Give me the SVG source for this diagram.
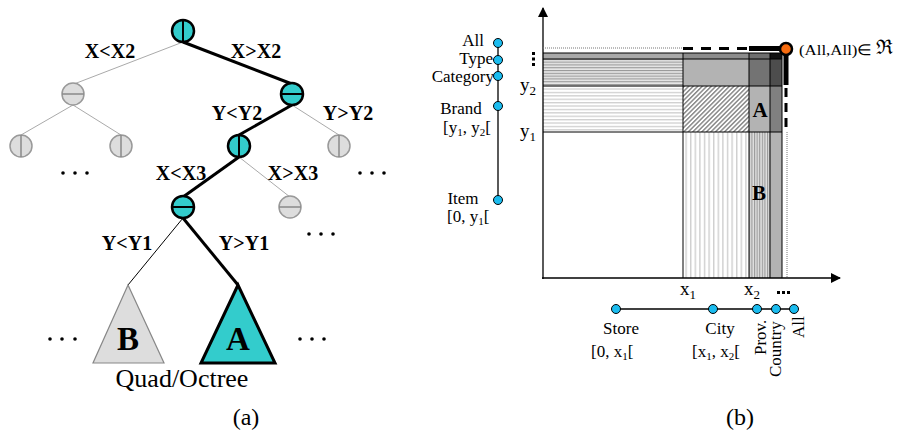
<svg xmlns="http://www.w3.org/2000/svg" width="897" height="432" viewBox="0 0 897 432">
<style>
.lbl{font-family:"Liberation Serif",serif;font-weight:bold;font-size:20px;text-anchor:middle;fill:#000}
.txt{font-family:"Liberation Serif",serif;font-size:17px;fill:#000}
.ax{font-family:"Liberation Serif",serif;font-size:19px;fill:#000}
.tn{fill:#33cccc;stroke:#000;stroke-width:2.5}
.gn{fill:#dddddd;stroke:#999;stroke-width:1.5}
.ts{stroke:#000;stroke-width:2}
.gs{stroke:#888;stroke-width:1.5}
.thick{stroke:#000;stroke-width:3;fill:none}
.thin{stroke:#aaa;stroke-width:1;fill:none}
.hn{fill:#1bbcef;stroke:#000;stroke-width:1}
.grid{stroke:#000;stroke-width:1;fill:none}
</style>
<defs>
<pattern id="hLight" patternUnits="userSpaceOnUse" width="10" height="3.4"><rect width="10" height="3.4" fill="#fff"/><rect y="0" width="10" height="1.3" fill="#cfcfcf"/></pattern>
<pattern id="hDense" patternUnits="userSpaceOnUse" width="10" height="2.8"><rect width="10" height="2.8" fill="#e6e6e6"/><rect y="0" width="10" height="1.1" fill="#999"/></pattern>
<pattern id="vLight" patternUnits="userSpaceOnUse" width="4.6" height="10"><rect width="4.6" height="10" fill="#fff"/><rect x="0" width="1.4" height="10" fill="#cfcfcf"/></pattern>
<pattern id="vDense" patternUnits="userSpaceOnUse" width="2.6" height="10"><rect width="2.6" height="10" fill="#e0e0e0"/><rect x="0" width="1.1" height="10" fill="#999"/></pattern>
<pattern id="diag" patternUnits="userSpaceOnUse" width="3.2" height="3.2" patternTransform="rotate(45)"><rect width="3.2" height="3.2" fill="#fff"/><rect x="0" width="1.5" height="3.2" fill="#8a8a8a"/></pattern>
<marker id="arr" viewBox="0 0 10 10" refX="9" refY="5" markerWidth="10" markerHeight="10" markerUnits="userSpaceOnUse" orient="auto"><path d="M0,0 L10,5 L0,10 Z" fill="#000"/></marker>
</defs>

<!-- (a) tree -->
<g id="connectors-a">
<line class="thin" x1="183" y1="42" x2="74" y2="84"/>
<line class="thick" x1="183" y1="42" x2="292" y2="84"/>
<line class="thin" x1="73" y1="105" x2="21" y2="135"/>
<line class="thin" x1="73" y1="105" x2="121" y2="135"/>
<line class="thick" x1="292" y1="105" x2="239" y2="135"/>
<line class="thin" x1="292" y1="105" x2="339" y2="135"/>
<line class="thick" x1="239" y1="157" x2="183" y2="197"/>
<line class="thin" x1="239" y1="157" x2="290" y2="197"/>
<line stroke="#000" stroke-width="1" x1="183" y1="218" x2="128" y2="285"/>
<line class="thick" x1="183" y1="218" x2="238" y2="285"/>
</g>
<g id="root"><circle class="tn" cx="183" cy="31" r="11"/><line class="ts" x1="183" y1="20" x2="183" y2="42"/></g>
<g id="n1l"><circle class="gn" cx="73" cy="94" r="11"/><line class="gs" x1="62" y1="94" x2="84" y2="94"/></g>
<g id="n1r"><circle class="tn" cx="292" cy="94" r="11"/><line class="ts" x1="281" y1="94" x2="303" y2="94"/></g>
<g id="n2a"><circle class="gn" cx="21" cy="146" r="11"/><line class="gs" x1="21" y1="135" x2="21" y2="157"/></g>
<g id="n2b"><circle class="gn" cx="121" cy="146" r="11"/><line class="gs" x1="121" y1="135" x2="121" y2="157"/></g>
<g id="n2c"><circle class="tn" cx="239" cy="146" r="11"/><line class="ts" x1="239" y1="135" x2="239" y2="157"/></g>
<g id="n2d"><circle class="gn" cx="339" cy="146" r="11"/><line class="gs" x1="339" y1="135" x2="339" y2="157"/></g>
<g id="n3a"><circle class="tn" cx="183" cy="207" r="11"/><line class="ts" x1="172" y1="207" x2="194" y2="207"/></g>
<g id="n3b"><circle class="gn" cx="290" cy="207" r="11"/><line class="gs" x1="279" y1="207" x2="301" y2="207"/></g>
<g id="triB"><polygon points="128,285 93,363 164,363" fill="#dddddd" stroke="#888" stroke-width="1.2"/><text x="128" y="350" font-family="Liberation Serif,serif" font-weight="bold" font-size="33" text-anchor="middle">B</text></g>
<g id="triA"><polygon points="238,285 201,363 275,363" fill="#33cccc" stroke="#000" stroke-width="3" stroke-linejoin="miter"/><text x="238" y="350" font-family="Liberation Serif,serif" font-weight="bold" font-size="33" text-anchor="middle">A</text></g>
<g id="labels-a">
<text class="lbl" x="110" y="58">X&lt;X2</text>
<text class="lbl" x="256" y="58">X&gt;X2</text>
<text class="lbl" x="237" y="120">Y&lt;Y2</text>
<text class="lbl" x="348" y="120">Y&gt;Y2</text>
<text class="lbl" x="181" y="180">X&lt;X3</text>
<text class="lbl" x="293" y="180">X&gt;X3</text>
<text class="lbl" x="127" y="250">Y&lt;Y1</text>
<text class="lbl" x="244" y="250">Y&gt;Y1</text>
<text x="182" y="387" font-family="Liberation Serif,serif" font-size="26" text-anchor="middle">Quad/Octree</text>
<text x="246" y="425" font-family="Liberation Serif,serif" font-size="24" text-anchor="middle">(a)</text>
</g>
<g id="dots-a" fill="#000">
<circle cx="50" cy="339" r="1.8"/><circle cx="62" cy="339" r="1.8"/><circle cx="75" cy="339" r="1.8"/>
<circle cx="300" cy="339" r="1.8"/><circle cx="312" cy="339" r="1.8"/><circle cx="324" cy="339" r="1.8"/>
<circle cx="63" cy="173" r="1.8"/><circle cx="75" cy="173" r="1.8"/><circle cx="87" cy="173" r="1.8"/>
<circle cx="360" cy="173" r="1.8"/><circle cx="372" cy="173" r="1.8"/><circle cx="384" cy="173" r="1.8"/>
<circle cx="309" cy="234" r="1.8"/><circle cx="321" cy="234" r="1.8"/><circle cx="333" cy="234" r="1.8"/>
</g>

<!-- (b) chart -->
<g id="cells">
<rect x="543" y="53" width="140" height="6" fill="#a9a9a9"/>
<rect x="543" y="59" width="140" height="27" fill="url(#hDense)"/>
<rect x="543" y="86" width="140" height="46" fill="url(#hLight)"/>
<rect x="683" y="53" width="66" height="6" fill="#8c8c8c"/>
<rect x="683" y="59" width="66" height="27" fill="#b3b3b3"/>
<rect x="683" y="86" width="66" height="46" fill="url(#diag)"/>
<rect x="683" y="132" width="66" height="146" fill="url(#vLight)"/>
<rect x="749" y="53" width="21" height="6" fill="#6e6e6e"/>
<rect x="749" y="59" width="21" height="27" fill="#737373"/>
<rect x="749" y="86" width="21" height="46" fill="#b3b3b3"/>
<rect x="749" y="132" width="21" height="146" fill="url(#vDense)"/>
<rect x="770" y="53" width="12" height="6" fill="#111"/>
<rect x="770" y="59" width="12" height="27" fill="#4d4d4d"/>
<rect x="770" y="86" width="12" height="46" fill="#808080"/>
<rect x="770" y="132" width="12" height="146" fill="#b3b3b3"/>
<path class="grid" d="M543,53 H782 M543,59 H782 M543,86 H782 M543,132 H782 M683,53 V278 M749,53 V278 M770,53 V278 M782,53 V278"/>
<text x="760" y="117" font-family="Liberation Serif,serif" font-weight="bold" font-size="21" text-anchor="middle">A</text>
<text x="759" y="200" font-family="Liberation Serif,serif" font-weight="bold" font-size="21" text-anchor="middle">B</text>
</g>
<g id="axes">
<line x1="543" y1="279" x2="543" y2="8" stroke="#000" stroke-width="1.3" marker-end="url(#arr)"/>
<line x1="542" y1="278" x2="840" y2="278" stroke="#000" stroke-width="1.3" marker-end="url(#arr)"/>
<line x1="543" y1="48" x2="683" y2="48" stroke="#777" stroke-width="1" stroke-dasharray="1 1"/>
<line x1="787" y1="132" x2="787" y2="278" stroke="#777" stroke-width="1" stroke-dasharray="1 1"/>
<line x1="683" y1="48.5" x2="749" y2="48.5" stroke="#000" stroke-width="3" stroke-dasharray="10 8"/>
<line x1="749" y1="48.5" x2="786" y2="48.5" stroke="#000" stroke-width="5"/>
<line x1="786" y1="48" x2="786" y2="85" stroke="#000" stroke-width="5"/>
<line x1="786" y1="88" x2="786" y2="132" stroke="#000" stroke-width="3" stroke-dasharray="9 6"/>
<g fill="#000"><rect x="532" y="52" width="3" height="3"/><rect x="532" y="57.5" width="3" height="3"/><rect x="532" y="63" width="3" height="3"/>
<rect x="777" y="291" width="3" height="3"/><rect x="782" y="291" width="3" height="3"/><rect x="787" y="291" width="3" height="3"/></g>
<text class="ax" x="520" y="91">y<tspan font-size="13" dy="4">2</tspan></text>
<text class="ax" x="520" y="137">y<tspan font-size="13" dy="4">1</tspan></text>
<text class="ax" x="680" y="295">x<tspan font-size="13" dy="4">1</tspan></text>
<text class="ax" x="744" y="295">x<tspan font-size="13" dy="4">2</tspan></text>
</g>
<g id="top">
<circle cx="786" cy="49" r="6" fill="#f76b0e" stroke="#000" stroke-width="2.5"/>
<text x="799" y="55" font-family="Liberation Serif,serif" font-size="15" textLength="73" lengthAdjust="spacingAndGlyphs">(All,All)∈</text>
<text x="876" y="54" font-family="DejaVu Serif,serif" font-size="20">ℜ</text>
</g>
<g id="yhier">
<line x1="498" y1="43" x2="498" y2="200" stroke="#000" stroke-width="1.3"/>
<circle class="hn" cx="498" cy="43" r="4.5"/>
<circle class="hn" cx="498" cy="60" r="4.5"/>
<circle class="hn" cx="498" cy="76" r="4.5"/>
<circle class="hn" cx="498" cy="106" r="4.5"/>
<circle class="hn" cx="498" cy="200" r="4.5"/>
<text class="txt" x="484" y="45.5" text-anchor="end">All</text>
<text class="txt" x="493" y="64" text-anchor="end">Type</text>
<text class="txt" x="494" y="82" text-anchor="end">Category</text>
<text class="txt" x="461" y="114" text-anchor="middle">Brand</text>
<text class="txt" x="443" y="133">[y<tspan font-size="11" dy="3">1</tspan><tspan dy="-3">, y</tspan><tspan font-size="11" dy="3">2</tspan><tspan dy="-3">[</tspan></text>
<text class="txt" x="463" y="204" text-anchor="middle">Item</text>
<text class="txt" x="447" y="222">[0, y<tspan font-size="11" dy="3">1</tspan><tspan dy="-3">[</tspan></text>
</g>
<g id="xhier">
<line x1="616" y1="309" x2="794" y2="309" stroke="#000" stroke-width="1.3"/>
<circle class="hn" cx="616" cy="309" r="4.5"/>
<circle class="hn" cx="713" cy="309" r="4.5"/>
<circle class="hn" cx="757" cy="309" r="4.5"/>
<circle class="hn" cx="776" cy="309" r="4.5"/>
<circle class="hn" cx="794" cy="309" r="4.5"/>
<text class="txt" x="621" y="334" text-anchor="middle">Store</text>
<text class="txt" x="591" y="357">[0, x<tspan font-size="11" dy="3">1</tspan><tspan dy="-3">[</tspan></text>
<text class="txt" x="720" y="334" text-anchor="middle">City</text>
<text class="txt" x="692" y="357">[x<tspan font-size="11" dy="3">1</tspan><tspan dy="-3">, x</tspan><tspan font-size="11" dy="3">2</tspan><tspan dy="-3">[</tspan></text>
<text class="txt" transform="translate(766,355) rotate(-90)">Prov.</text>
<text class="txt" transform="translate(781,377) rotate(-90)">Country</text>
<text class="txt" transform="translate(804,338) rotate(-90)">All</text>
<text x="740" y="425" font-family="Liberation Serif,serif" font-size="24" text-anchor="middle">(b)</text>
</g>
</svg>
